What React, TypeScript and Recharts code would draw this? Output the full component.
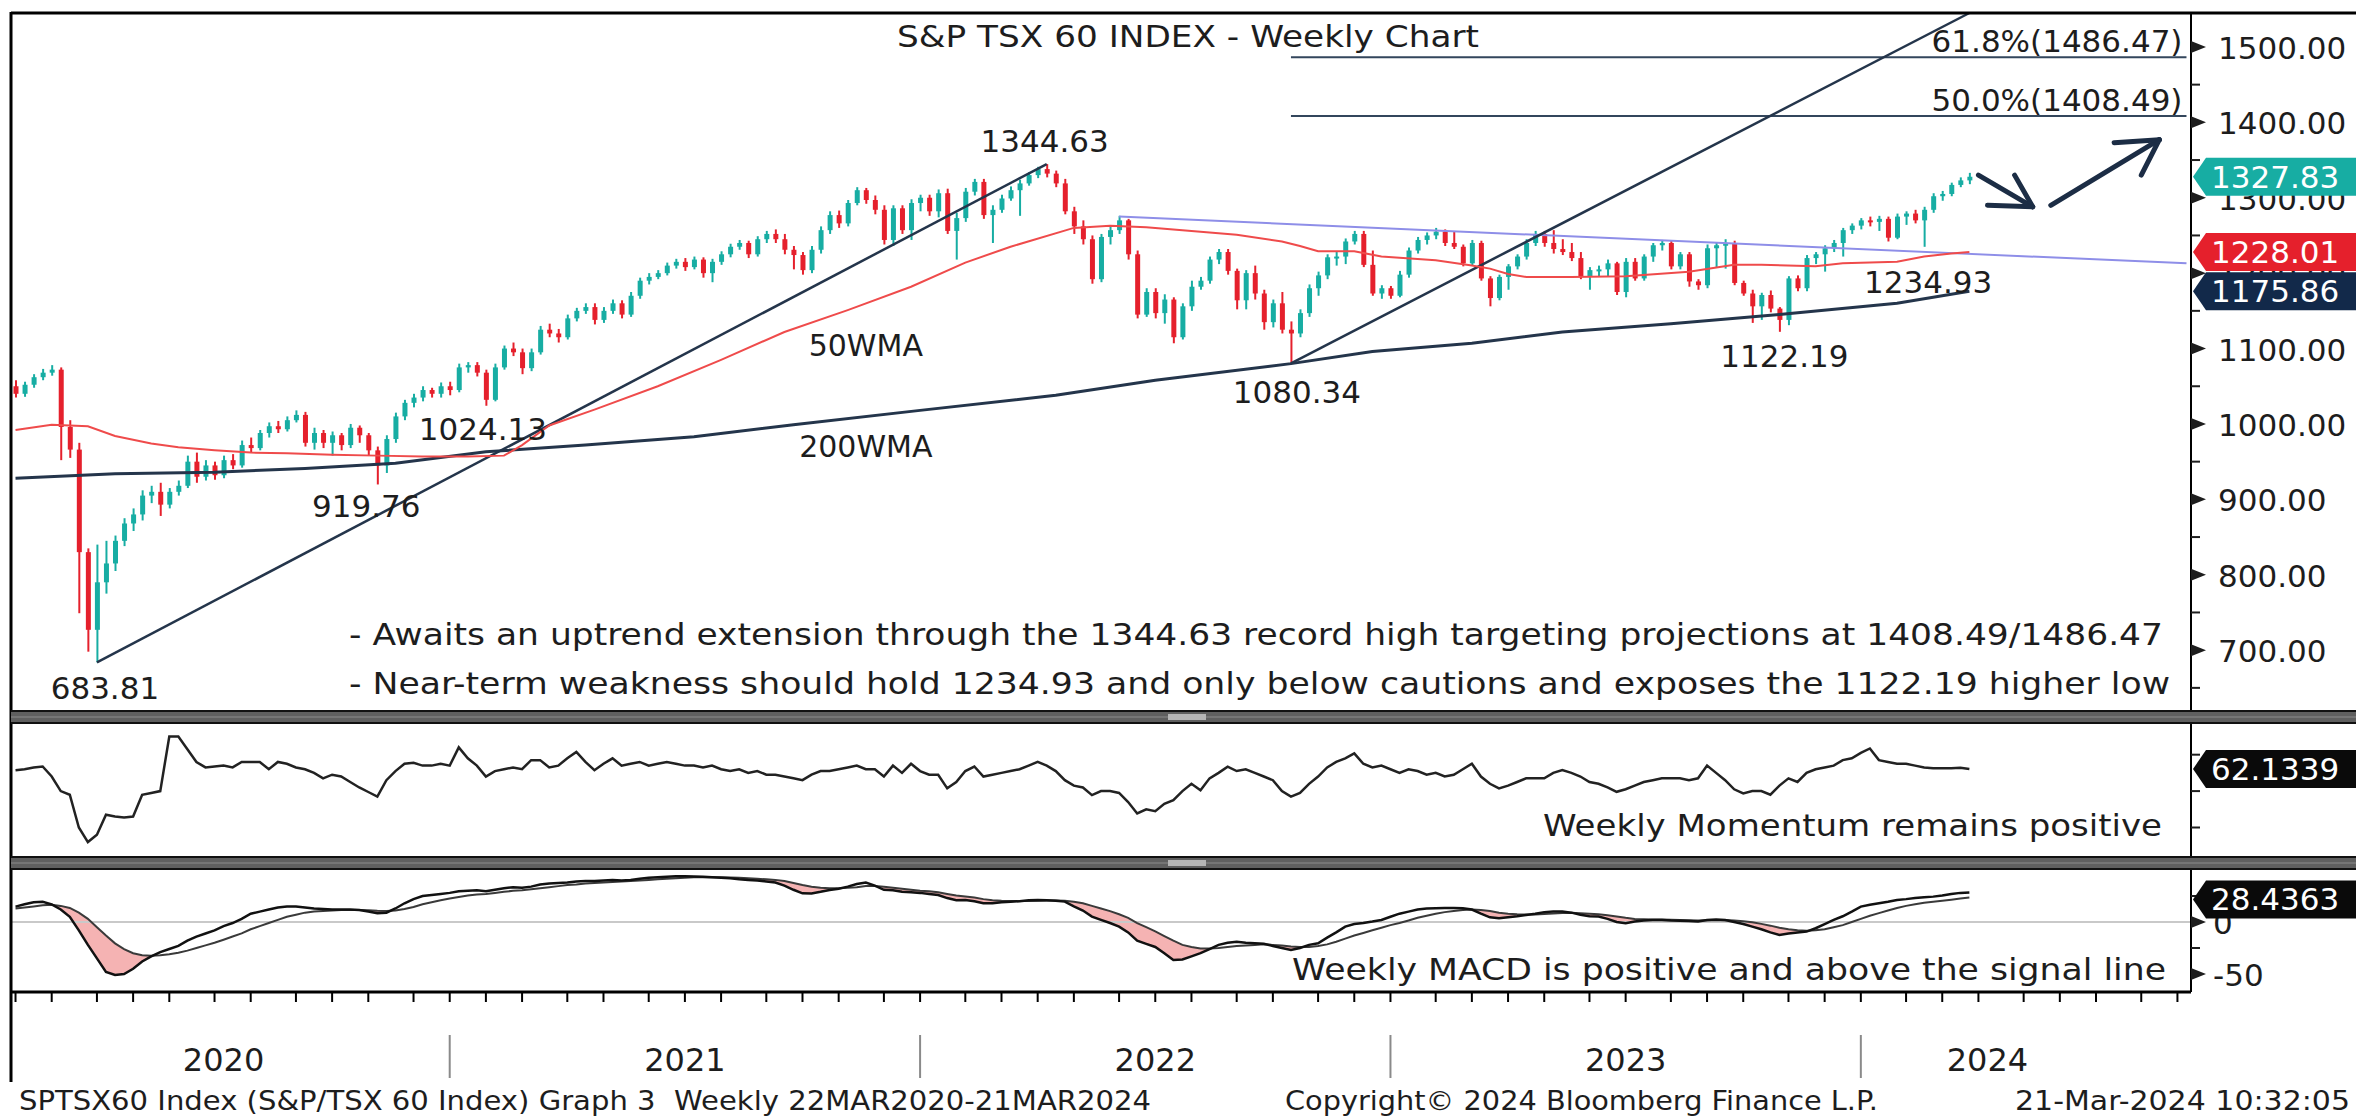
import React from 'react'
import {
  ComposedChart,
  Bar,
  Line,
  Area,
  XAxis,
  YAxis,
  ReferenceLine,
  ReferenceDot,
} from 'recharts'

const W = 2356
const H = 1118
const PLOT_LEFT = 11
const AXIS_W = 165
const FONT = '"DejaVu Sans", Verdana, sans-serif'
const INK = '#1d1d1d'
const TEAL = '#17ada3'
const RED = '#e5202c'
const NAVY = '#24354b'
const SLOTS = 241 // weekly slots on the x axis, candles fill the first 217

// weekly candles, first bar = week ending 31 Jan 2020
const firstOpen = 1050
const closes = [
  1040, 1052, 1062, 1068, 1072, 996, 966, 830, 727, 790,
  815, 845, 868, 880, 905, 910, 893, 910, 918, 950,
  930, 945, 932, 952, 945, 972, 968, 988, 997, 993,
  1005, 1012, 975, 988, 975, 985, 972, 995, 985, 965,
  945, 980, 1010, 1028, 1035, 1045, 1040, 1050, 1045, 1075,
  1078, 1068, 1032, 1075, 1100, 1095, 1074, 1095, 1125, 1120,
  1115, 1140, 1150, 1155, 1138, 1150, 1160, 1145, 1170, 1190,
  1195, 1200, 1210, 1215, 1208, 1218, 1200, 1215, 1225, 1235,
  1240, 1225, 1245, 1252, 1245, 1231, 1224, 1204, 1231, 1257,
  1277, 1266, 1293, 1310, 1297, 1284, 1244, 1286, 1257, 1293,
  1300, 1282, 1306, 1256, 1273, 1308, 1321, 1277, 1284, 1299,
  1310, 1319, 1330, 1338, 1332, 1319, 1282, 1262, 1245, 1192,
  1248, 1257, 1270, 1225, 1145, 1175, 1147, 1165, 1115, 1156,
  1182, 1190, 1218, 1228, 1203, 1164, 1200, 1173, 1135, 1160,
  1125, 1120, 1147, 1180, 1197, 1221, 1222, 1242, 1252, 1211,
  1173, 1180, 1170, 1198, 1230, 1244, 1250, 1255, 1240, 1235,
  1213, 1240, 1193, 1167, 1195, 1209, 1222, 1240, 1252, 1240,
  1232, 1228, 1220, 1195, 1204, 1205, 1213, 1175, 1215, 1193,
  1222, 1237, 1240, 1209, 1225, 1189, 1184, 1233, 1237, 1239,
  1187, 1173, 1156, 1171, 1153, 1138, 1193, 1180, 1220, 1225,
  1233, 1240, 1257, 1263, 1270, 1268, 1272, 1247, 1275, 1279,
  1270, 1284, 1302, 1305, 1317, 1323, 1327.83,
]
const highs = [
  1058, 1056, 1066, 1073, 1078, 1075, 1005, 975, 835, 840,
  845, 852, 875, 888, 912, 918, 922, 915, 925, 958,
  962, 952, 950, 958, 960, 978, 982, 992, 1002, 1004,
  1010, 1018, 1016, 995, 992, 990, 988, 1000, 998, 988,
  970, 985, 1015, 1032, 1040, 1050, 1048, 1055, 1056, 1080,
  1082, 1082, 1072, 1080, 1104, 1108, 1100, 1100, 1130, 1133,
  1126, 1145, 1154, 1160, 1160, 1155, 1165, 1164, 1175, 1194,
  1200, 1204, 1214, 1219, 1220, 1222, 1221, 1219, 1229, 1239,
  1244, 1243, 1249, 1256, 1258, 1252, 1236, 1228, 1236, 1262,
  1282, 1283, 1297, 1314, 1313, 1303, 1290, 1290, 1290, 1298,
  1304, 1304, 1311, 1312, 1280, 1313, 1325, 1325, 1290, 1304,
  1315, 1324, 1334, 1341, 1344.63, 1336, 1325, 1288, 1270, 1250,
  1252, 1262, 1276, 1272, 1230, 1180, 1180, 1172, 1168, 1160,
  1190, 1195, 1222, 1232, 1232, 1206, 1204, 1210, 1178, 1165,
  1175, 1136, 1152, 1185, 1202, 1225, 1228, 1246, 1256, 1256,
  1230, 1184, 1183, 1203, 1234, 1248, 1254, 1260, 1258, 1255,
  1238, 1244, 1243, 1196, 1198, 1212, 1225, 1245, 1256, 1256,
  1257, 1245, 1240, 1228, 1208, 1210, 1218, 1215, 1220, 1220,
  1225, 1240, 1244, 1243, 1228, 1228, 1192, 1238, 1240, 1245,
  1243, 1190, 1178, 1174, 1177, 1155, 1196, 1197, 1224, 1228,
  1237, 1244, 1260, 1266, 1273, 1275, 1276, 1275, 1279, 1282,
  1284, 1288, 1306, 1309, 1320, 1327, 1333,
]
const lows = [
  1035, 1036, 1048, 1058, 1064, 952, 955, 749, 698, 683.81,
  775, 805, 838, 858, 872, 895, 878, 888, 905, 915,
  922, 925, 926, 928, 940, 942, 962, 965, 982, 988,
  990, 1002, 970, 966, 968, 958, 965, 968, 975, 958,
  919.76, 935, 975, 1005, 1022, 1030, 1035, 1035, 1038, 1042,
  1068, 1063, 1024.13, 1030, 1072, 1090, 1066, 1070, 1092, 1115,
  1108, 1112, 1136, 1146, 1132, 1134, 1146, 1140, 1142, 1166,
  1185, 1192, 1197, 1206, 1203, 1205, 1194, 1188, 1211, 1221,
  1231, 1220, 1222, 1240, 1240, 1225, 1205, 1198, 1200, 1226,
  1252, 1260, 1262, 1290, 1292, 1278, 1238, 1236, 1252, 1244,
  1282, 1276, 1274, 1252, 1218, 1268, 1303, 1272, 1240, 1280,
  1296, 1276, 1316, 1326, 1327, 1314, 1278, 1252, 1238, 1186,
  1188, 1238, 1252, 1218, 1140, 1142, 1140, 1133, 1107, 1112,
  1150, 1178, 1186, 1212, 1198, 1152, 1152, 1165, 1125, 1128,
  1120, 1080.34, 1115, 1142, 1170, 1192, 1210, 1212, 1238, 1208,
  1170, 1166, 1166, 1168, 1194, 1226, 1238, 1245, 1236, 1232,
  1209, 1210, 1190, 1156, 1164, 1178, 1205, 1218, 1236, 1235,
  1226, 1224, 1216, 1192, 1178, 1195, 1195, 1171, 1168, 1190,
  1190, 1215, 1230, 1205, 1205, 1182, 1178, 1180, 1208, 1206,
  1184, 1170, 1134, 1138, 1148, 1122.19, 1131, 1176, 1176, 1212,
  1202, 1228, 1222, 1252, 1258, 1262, 1256, 1242, 1245, 1264,
  1266, 1234.93, 1280, 1296, 1302, 1314, 1318,
]

// moving averages (week index -> value)
const ma50Weeks = [
  0, 4, 8, 11, 15, 18, 22, 26, 30, 35, 40, 45, 50, 54, 56, 59, 64, 71, 78, 85,
  92, 99, 105, 110, 117, 121, 125, 129, 135, 140, 142, 144, 148, 151, 157, 161, 163, 165, 167, 172,
  178, 185, 190, 193, 199, 202, 208, 211, 214, 216,
]
const ma50Values = [
  992, 999, 997, 984, 974, 969, 965, 962, 961, 959, 958, 957, 957, 958, 972, 998, 1019, 1050, 1085, 1122,
  1151, 1182, 1214, 1235, 1260, 1263, 1261, 1257, 1251, 1242, 1236, 1229, 1229, 1222, 1217, 1210, 1206, 1199, 1195, 1195,
  1196, 1202, 1211, 1211, 1209, 1213, 1215, 1222, 1226, 1228.01,
]
const ma200Weeks = [0, 11, 22, 32, 42, 52, 63, 75, 86, 100, 115, 126, 141, 150, 161, 171, 183, 195, 208, 216]
const ma200Values = [928, 934, 936, 941, 948, 963, 972, 983, 999, 1018, 1038, 1058, 1080, 1096, 1107, 1122, 1133, 1145, 1160, 1175.86]

// weekly momentum (RSI)
const momentum = [
  61.5, 62, 63, 63.5, 58, 50, 48, 30, 22, 26,
  37, 36, 35.5, 36, 48, 49, 50, 80, 80, 73,
  66, 63, 63.5, 64, 63, 66, 66, 66, 62, 66,
  65, 63, 62, 60, 57, 59, 58, 55, 52, 49.5,
  47, 56, 61, 65, 65.5, 64, 64, 65, 64, 74,
  68, 64, 58, 61, 62, 63, 62, 67, 67, 63,
  64, 68, 71.5, 66, 61.5, 65, 68, 64, 65, 66,
  64, 65, 66, 65, 64, 64, 63, 64, 62, 61,
  62, 60, 61, 59, 59, 58, 57, 56, 59, 61,
  61, 62, 63, 64, 62, 62, 58, 64, 60, 65,
  61, 59, 59, 51.5, 55, 61, 63.5, 58, 59, 60,
  61, 62, 64, 66, 64, 61, 56, 53, 52, 47.8,
  50, 50, 49, 44, 37.7, 40, 39, 43, 45, 50,
  54, 50.5, 57, 60, 63.4, 61, 62, 60, 58, 56,
  50, 47, 49, 54, 58, 63, 66, 68, 70.7, 65,
  63, 64, 62, 60, 62, 61, 59, 60, 58, 59,
  62, 65, 58, 54, 51.5, 53, 55, 57, 57, 57,
  60, 61.5, 60, 58, 55, 54, 52, 49.6, 51, 53,
  55, 56, 57, 57, 57, 56, 57, 64, 60, 56,
  51, 48.7, 50, 50, 48, 53, 57, 55, 60, 62,
  63, 64, 67, 68, 71, 73.4, 67, 66, 65, 65,
  64, 63, 62.5, 62.5, 62.5, 62.8, 62.1339,
]

// weekly MACD and signal line
const macd = [
  14.8, 17, 19, 19.5, 17, 12, 5, -8, -22, -35,
  -48, -51, -50, -45, -38, -33, -29, -26, -23, -18,
  -14, -11, -8, -4, -1, 3, 8, 10, 12, 14,
  15, 15, 14, 13, 12.5, 12, 12, 12, 11.5, 10,
  8.5, 9, 13, 18, 22, 25, 26, 27, 28, 29.5,
  30, 30.5, 29.5, 31, 32.5, 33.5, 33, 34, 36, 37,
  37.5, 38, 39, 39.5, 39.5, 40, 40.5, 40, 40.5, 41.5,
  42.5, 43, 43.6, 44, 44, 43.8, 43.6, 43, 42.5, 42,
  41, 40.4, 40, 39, 38, 35, 31, 27.6, 27.5, 29,
  30.8, 32, 34, 36.5, 37.9, 35, 31, 30.5, 29, 28.5,
  28, 27, 26, 23, 21, 21.2, 20, 18, 18, 19,
  19.5, 20, 21, 21.2, 21, 20.5, 19.6, 15, 11, 5.2,
  2, -1, -4.4, -10, -18, -21, -24, -30, -36.5, -36,
  -33, -30, -26, -22, -20, -19, -20, -20.5, -21, -23,
  -25, -27, -25, -22, -20.5, -15, -10, -4.4, -2, -1,
  0.4, 2, 5, 8, 10, 12, 13, 13.2, 13.5, 13.5,
  13.2, 12, 8, 4.5, 3.6, 4.5, 5.5, 6.8, 8, 9.5,
  10, 10, 9, 7, 5.5, 5.2, 3, 0, -1.2, 0.5,
  1.5, 2, 2, 1.5, 1.3, 1, 0.5, 2, 2.5, 2,
  0, -2, -4.4, -7, -10, -12.4, -11, -10, -9.2, -6,
  -2, 2, 5.5, 10, 14.8, 16.5, 18, 19.5, 21.2, 22,
  23, 23.8, 24.4, 25.5, 27, 28, 28.4363,
]
const signal = [
  13, 14, 15, 16, 16.5, 15.5, 13.5, 9, 3, -5,
  -13, -20.5, -26, -30, -32, -32.5, -32, -31, -29.5, -27.5,
  -25, -22.5, -20, -17, -14, -11, -7, -4, -1, 2,
  5, 7, 9, 10, 10.5, 11, 11.5, 11.5, 11.5, 11.3,
  10.8, 10.5, 11, 12.5, 14.5, 17, 19, 21, 22.5, 24,
  25.5, 26.5, 27, 28, 29, 30, 30.5, 31.5, 32.5, 33.5,
  34.5, 35.5, 36, 37, 37.5, 38, 38.5, 39, 39.5, 40,
  40.5, 41, 41.5, 42, 42.5, 43, 43, 43, 43, 42.8,
  42.5, 42, 41.5, 41, 40.5, 39.5, 37.5, 35.5, 34, 33,
  32.5, 32.5, 33, 33.5, 34.5, 34.5, 34, 33, 32, 31,
  30, 29.5, 28.5, 27, 25.5, 24.5, 23.5, 22, 21, 20.5,
  20.3, 20.2, 20.3, 20.5, 20.6, 20.6, 20.4, 19.5, 18, 15.5,
  13, 10.5, 7.5, 4, -1, -5, -9, -13.5, -18, -22,
  -24, -25.5, -25.5, -25, -24, -23, -22.5, -22, -21.5, -22,
  -22.5, -23.5, -24, -24, -23, -21.5, -19, -16, -13, -10.5,
  -8, -5.5, -3, -1, 1.5, 4, 6, 8, 9.5, 10.5,
  11.5, 12, 11.5, 10.5, 9, 8, 7.5, 7.2, 7.3, 7.7,
  8.2, 8.7, 8.8, 8.5, 8, 7.4, 6.5, 5.2, 4, 3,
  2.7, 2.5, 2.4, 2.2, 2, 1.8, 1.5, 1.6, 1.8, 1.9,
  1.5, 0.8, -0.3, -1.8, -3.5, -5.5, -7, -8, -8.5, -8,
  -7, -5, -3, 0, 3, 6, 8.5, 11, 13.5, 15.5,
  17, 18.5, 19.5, 20.5, 21.5, 22.5, 23.5,
]

// annotation lines: [week index, value]
const uptrend1 = [[9, 683.81], [114, 1344.63]]
const uptrend2 = [[141, 1080.34], [216, 1545]]
const resistance = [[122, 1275], [240, 1213]]
const fibLevels = [
  { value: 1486.47, label: '61.8%(1486.47)', from: 141, to: 240 },
  { value: 1408.49, label: '50.0%(1408.49)', from: 141, to: 240 },
]
const arrowDown = [[[217, 1330], [223, 1288]], [[221, 1330], [223, 1288]], [[218, 1290], [223, 1288]]]
const arrowUp = [[[225, 1290], [237, 1377]], [[232, 1373], [237, 1377]], [[235, 1330], [237, 1377]]]

const pivots = [
  { i: 114, v: 1344.63, text: '1344.63', dx: -2, dy: -12 },
  { i: 9, v: 683.81, text: '683.81', dx: 8, dy: 37 },
  { i: 40, v: 919.76, text: '919.76', dx: -11, dy: 33 },
  { i: 52, v: 1024.13, text: '1024.13', dx: -3, dy: 34 },
  { i: 141, v: 1080.34, text: '1080.34', dx: 6, dy: 40 },
  { i: 195, v: 1122.19, text: '1122.19', dx: 5, dy: 35 },
  { i: 211, v: 1234.93, text: '1234.93', dx: 4, dy: 46 },
]
const maLabels = [
  { i: 94, v: 1090, text: '50WMA' },
  { i: 94, v: 956, text: '200WMA' },
]
const priceBadges = [
  { v: 1327.83, text: '1327.83', color: TEAL },
  { v: 1228.01, text: '1228.01', color: RED },
  { v: 1175.86, text: '1175.86', color: '#12294a' },
]

const priceTicks = [650, 700, 750, 800, 850, 900, 950, 1000, 1050, 1100, 1150, 1200, 1250, 1300, 1350, 1400, 1450, 1500]
const yearLabelWeeks = [23, 74, 126, 178, 218]
const yearLabels = ['2020', '2021', '2022', '2023', '2024']

// month starts on the weekly slot axis
const DAY = 86400000
const firstBarDay = Date.UTC(2020, 0, 31)
const slotOf = (y: number, m: number) => Math.round((Date.UTC(y, m, 1) - firstBarDay) / (7 * DAY))
const monthTicks: number[] = []
for (let y = 2020; y <= 2024; y++) {
  for (let m = 0; m < 12; m++) {
    const s = slotOf(y, m)
    if (s >= 0 && s < SLOTS) monthTicks.push(s)
  }
}
const yearStarts = [2021, 2022, 2023, 2024].map((y) => slotOf(y, 0))
const bottomTicks = Array.from(new Set([...monthTicks, ...yearLabelWeeks])).sort((a, b) => a - b)

const rows: any[] = Array.from({ length: SLOTS }, (_, i) => {
  const r: any = { i }
  if (i < closes.length) {
    r.open = i === 0 ? firstOpen : closes[i - 1]
    r.close = closes[i]
    r.high = highs[i]
    r.low = lows[i]
    r.range = [lows[i], highs[i]]
    r.mom = momentum[i]
    r.macd = macd[i]
    r.sig = signal[i]
  }
  return r
})
ma50Weeks.forEach((w, k) => (rows[w].ma50 = ma50Values[k]))
ma200Weeks.forEach((w, k) => (rows[w].ma200 = ma200Values[k]))

function Candle(props: any) {
  const { x, y, width, height, payload } = props
  if (!payload || payload.close == null || height == null) return null
  const { open, close, high, low } = payload
  const top = Math.min(y, y + height)
  const h = Math.abs(height)
  const py = (v: number) => top + ((high - v) / (high - low)) * h
  const cx = x + width / 2
  const color = close >= open ? TEAL : RED
  const b1 = py(Math.max(open, close))
  const b2 = py(Math.min(open, close))
  return (
    <g>
      <line x1={cx} x2={cx} y1={top} y2={top + h} stroke={color} strokeWidth={2} />
      <rect x={cx - 2.5} y={b1} width={5} height={Math.max(2, b2 - b1)} fill={color} />
    </g>
  )
}

function PriceTick(props: any) {
  const { x, y, payload } = props
  const v = payload.value
  if (v % 100 !== 0) return <line x1={x} x2={x + 9} y1={y} y2={y} stroke={INK} strokeWidth={2} />
  return (
    <g>
      <polygon points={`${x},${y - 6} ${x + 15},${y} ${x},${y + 6}`} fill={INK} />
      <text x={x + 27} y={y + 12} fontSize={31} fontFamily={FONT} fill={INK}>
        {v.toFixed(2)}
      </text>
    </g>
  )
}

function MinorTick(props: any) {
  const { x, y } = props
  return <line x1={x} x2={x + 9} y1={y} y2={y} stroke={INK} strokeWidth={2} />
}

function MacdTick(props: any) {
  const { x, y, payload } = props
  const v = payload.value
  if (v % 50 !== 0) return <line x1={x} x2={x + 9} y1={y} y2={y} stroke={INK} strokeWidth={2} />
  return (
    <g>
      <polygon points={`${x},${y - 6} ${x + 15},${y} ${x},${y + 6}`} fill={INK} />
      <text x={x + 22} y={y + 12} fontSize={31} fontFamily={FONT} fill={INK}>
        {String(v)}
      </text>
    </g>
  )
}

function Badge(props: any) {
  const { viewBox, text, color, shift = 0 } = props
  if (!viewBox) return null
  const x0 = viewBox.x + viewBox.width + 2
  const cy = viewBox.y + shift
  const h = 19
  return (
    <g>
      <polygon
        points={`${x0},${cy} ${x0 + 13},${cy - h} ${W},${cy - h} ${W},${cy + h} ${x0 + 13},${cy + h}`}
        fill={color}
      />
      <text x={x0 + 18} y={cy + 11} fontSize={31} fontFamily={FONT} fill="#fff">
        {text}
      </text>
    </g>
  )
}

function TextLabel(props: any) {
  const { viewBox, text, dx = 0, dy = 0, anchor = 'middle', size = 31, atEnd = false } = props
  if (!viewBox) return null
  const bx = atEnd ? viewBox.x + viewBox.width : viewBox.x
  return (
    <text x={bx + dx} y={viewBox.y + dy} textAnchor={anchor} fontSize={size} fontFamily={FONT} fill={INK}>
      {text}
    </text>
  )
}

function BottomTick(props: any) {
  const { x, y, payload } = props
  const v = payload.value
  const k = yearLabelWeeks.indexOf(v)
  return (
    <g>
      {monthTicks.includes(v) && <line x1={x} x2={x} y1={y} y2={y + 10} stroke="#000" strokeWidth={2} />}
      {yearStarts.includes(v) && <line x1={x} x2={x} y1={y + 43} y2={y + 86} stroke="#8a8a8a" strokeWidth={2} />}
      {k >= 0 && (
        <text x={x} y={y + 79} textAnchor="middle" fontSize={32} fontFamily={FONT} fill={INK}>
          {yearLabels[k]}
        </text>
      )}
    </g>
  )
}

const seg = (pts: number[][]) => [
  { x: pts[0][0], y: pts[0][1] },
  { x: pts[1][0], y: pts[1][1] },
]

function PricePane() {
  return (
    <ComposedChart
      width={W}
      height={720}
      data={rows}
      margin={{ top: 13, right: 0, bottom: 8, left: PLOT_LEFT }}
    >
      <XAxis dataKey="i" type="category" scale="band" hide />
      <YAxis
        orientation="right"
        type="number"
        domain={[618, 1545]}
        allowDataOverflow
        ticks={priceTicks}
        interval={0}
        width={AXIS_W}
        tickSize={0}
        tickMargin={0}
        tickLine={false}
        axisLine={{ stroke: '#000', strokeWidth: 2 }}
        tick={<PriceTick />}
      />
      {fibLevels.map((f) => (
        <ReferenceLine
          key={f.label}
          segment={[{ x: f.from, y: f.value }, { x: f.to, y: f.value }]}
          stroke="#33465c"
          strokeWidth={2}
          ifOverflow="visible"
          label={<TextLabel text={f.label} atEnd dx={-4} dy={-5} anchor="end" />}
        />
      ))}
      <ReferenceLine segment={seg(resistance)} stroke="#8e8ee8" strokeWidth={2} ifOverflow="visible" />
      <ReferenceLine segment={seg(uptrend1)} stroke={NAVY} strokeWidth={2.5} ifOverflow="visible" />
      <ReferenceLine segment={seg(uptrend2)} stroke={NAVY} strokeWidth={2.5} ifOverflow="visible" />
      <Line dataKey="ma200" stroke={NAVY} strokeWidth={3} dot={false} connectNulls isAnimationActive={false} />
      <Line dataKey="ma50" stroke="#ef4b4b" strokeWidth={2} dot={false} connectNulls isAnimationActive={false} />
      <Bar dataKey="range" barSize={6} shape={<Candle />} isAnimationActive={false} />
      {[...arrowDown, ...arrowUp].map((a, k) => (
        <ReferenceLine key={k} segment={seg(a)} stroke="#1c2d45" strokeWidth={5} strokeLinecap="round" ifOverflow="visible" />
      ))}
      {pivots.map((p) => (
        <ReferenceDot
          key={p.text}
          x={p.i}
          y={p.v}
          r={0}
          fill="none"
          stroke="none"
          ifOverflow="visible"
          label={<TextLabel text={p.text} dx={p.dx} dy={p.dy} />}
        />
      ))}
      {maLabels.map((p) => (
        <ReferenceDot
          key={p.text}
          x={p.i}
          y={p.v}
          r={0}
          fill="none"
          stroke="none"
          ifOverflow="visible"
          label={<TextLabel text={p.text} size={30} />}
        />
      ))}
    </ComposedChart>
  )
}

// last-value tags sit in their own layer so they cover the axis labels
function PriceBadges() {
  return (
    <ComposedChart width={W} height={720} data={rows} margin={{ top: 13, right: AXIS_W, bottom: 8, left: PLOT_LEFT }}>
      <XAxis dataKey="i" type="category" scale="band" hide />
      <YAxis type="number" domain={[618, 1545]} allowDataOverflow hide />
      {priceBadges.map((b) => (
        <ReferenceLine key={b.text} y={b.v} stroke="none" ifOverflow="visible" label={<Badge text={b.text} color={b.color} />} />
      ))}
    </ComposedChart>
  )
}

function MomentumPane() {
  return (
    <ComposedChart width={W} height={134} data={rows} margin={{ top: 0, right: 0, bottom: 0, left: PLOT_LEFT }}>
      <XAxis dataKey="i" type="category" scale="band" hide />
      <YAxis
        orientation="right"
        type="number"
        domain={[13.8, 87.4]}
        allowDataOverflow
        ticks={[30, 50, 70]}
        interval={0}
        width={AXIS_W}
        tickSize={0}
        tickMargin={0}
        tickLine={false}
        axisLine={{ stroke: '#000', strokeWidth: 2 }}
        tick={<MinorTick />}
      />
      <Line dataKey="mom" stroke="#222" strokeWidth={2.5} dot={false} isAnimationActive={false} />
      <ReferenceLine y={62.1339} stroke="none" ifOverflow="visible" label={<Badge text="62.1339" color="#0a0a0a" />} />
    </ComposedChart>
  )
}

function MacdPane() {
  return (
    <ComposedChart width={W} height={215} data={rows} margin={{ top: 0, right: 0, bottom: 0, left: PLOT_LEFT }}>
      <XAxis
        dataKey="i"
        type="category"
        scale="band"
        height={93}
        ticks={bottomTicks}
        interval={0}
        tickSize={0}
        tickMargin={0}
        tickLine={false}
        axisLine={{ stroke: '#000', strokeWidth: 3 }}
        tick={<BottomTick />}
      />
      <YAxis
        orientation="right"
        type="number"
        domain={[-67.3, 50]}
        allowDataOverflow
        ticks={[-50, -25, 0, 25]}
        interval={0}
        width={AXIS_W}
        tickSize={0}
        tickMargin={0}
        tickLine={false}
        axisLine={{ stroke: '#000', strokeWidth: 2 }}
        tick={<MacdTick />}
      />
      <ReferenceLine y={0} stroke="#c9c9c9" strokeWidth={2} />
      <Area
        dataKey={(d: any) => (d.macd == null ? null : d.macd < d.sig ? [d.macd, d.sig] : [d.sig, d.sig])}
        stroke="none"
        fill="#f5b3b3"
        fillOpacity={1}
        dot={false}
        activeDot={false}
        isAnimationActive={false}
      />
      <Line dataKey="sig" stroke="#3a3a3a" strokeWidth={2} dot={false} isAnimationActive={false} />
      <Line dataKey="macd" stroke="#111" strokeWidth={2.5} dot={false} isAnimationActive={false} />
    </ComposedChart>
  )
}

function MacdBadge() {
  return (
    <ComposedChart width={W} height={215} data={rows} margin={{ top: 0, right: AXIS_W, bottom: 93, left: PLOT_LEFT }}>
      <XAxis dataKey="i" type="category" scale="band" hide />
      <YAxis type="number" domain={[-67.3, 50]} allowDataOverflow hide />
      <ReferenceLine y={28.4363} stroke="none" ifOverflow="visible" label={<Badge text="28.4363" color="#0a0a0a" shift={7} />} />
    </ComposedChart>
  )
}

function Separator({ y }: { y: number }) {
  return (
    <g>
      <rect x={PLOT_LEFT} y={y} width={W - PLOT_LEFT} height={12} fill="#5f5f5f" />
      <line x1={PLOT_LEFT} x2={W} y1={y} y2={y} stroke="#111" strokeWidth={2} />
      <line x1={PLOT_LEFT} x2={W} y1={y + 12} y2={y + 12} stroke="#111" strokeWidth={2} />
      <line x1={PLOT_LEFT} x2={W} y1={y + 6} y2={y + 6} stroke="#8c8c8c" strokeWidth={1} />
      <rect x={1168} y={y + 3} width={38} height={6} fill="#b5b5b5" />
    </g>
  )
}

const layer = (top: number): React.CSSProperties => ({ position: 'absolute', left: 0, top, pointerEvents: 'none' })

export default function App() {
  const txt = { fontFamily: FONT, fill: INK } as const
  return (
    <div style={{ position: 'absolute', left: 0, top: 0, width: W, height: H, background: '#fff', overflow: 'hidden' }}>
      <div style={layer(0)}>
        <PricePane />
      </div>
      <div style={layer(0)}>
        <PriceBadges />
      </div>
      <div style={layer(723)}>
        <MomentumPane />
      </div>
      <div style={layer(870)}>
        <MacdPane />
      </div>
      <div style={layer(870)}>
        <MacdBadge />
      </div>
      <svg width={W} height={H} style={{ position: 'absolute', left: 0, top: 0, pointerEvents: 'none' }}>
        <line x1={PLOT_LEFT} y1={13} x2={W} y2={13} stroke="#000" strokeWidth={3} />
        <line x1={PLOT_LEFT} y1={12} x2={PLOT_LEFT} y2={1082} stroke="#000" strokeWidth={3} />
        <Separator y={711} />
        <Separator y={857} />
        <text x={1188} y={47} textAnchor="middle" fontSize={31} textLength={582} lengthAdjust="spacingAndGlyphs" {...txt}>
          S&amp;P TSX 60 INDEX - Weekly Chart
        </text>
        <text x={349} y={645} fontSize={30} textLength={1814} lengthAdjust="spacingAndGlyphs" {...txt}>
          - Awaits an uptrend extension through the 1344.63 record high targeting projections at 1408.49/1486.47
        </text>
        <text x={349} y={694} fontSize={30} textLength={1821} lengthAdjust="spacingAndGlyphs" {...txt}>
          - Near-term weakness should hold 1234.93 and only below cautions and exposes the 1122.19 higher low
        </text>
        <text x={1543} y={836} fontSize={31} textLength={619} lengthAdjust="spacingAndGlyphs" {...txt}>
          Weekly Momentum remains positive
        </text>
        <text x={1292} y={980} fontSize={30} textLength={874} lengthAdjust="spacingAndGlyphs" {...txt}>
          Weekly MACD is positive and above the signal line
        </text>
        <text x={19} y={1110} fontSize={27} textLength={1132} lengthAdjust="spacingAndGlyphs" style={{ whiteSpace: 'pre' }} {...txt}>
          {'SPTSX60 Index (S&P/TSX 60 Index) Graph 3  Weekly 22MAR2020-21MAR2024'}
        </text>
        <text x={1285} y={1110} fontSize={27} textLength={593} lengthAdjust="spacingAndGlyphs" {...txt}>
          Copyright© 2024 Bloomberg Finance L.P.
        </text>
        <text x={2015} y={1110} fontSize={27} textLength={335} lengthAdjust="spacingAndGlyphs" {...txt}>
          21-Mar-2024 10:32:05
        </text>
      </svg>
    </div>
  )
}
